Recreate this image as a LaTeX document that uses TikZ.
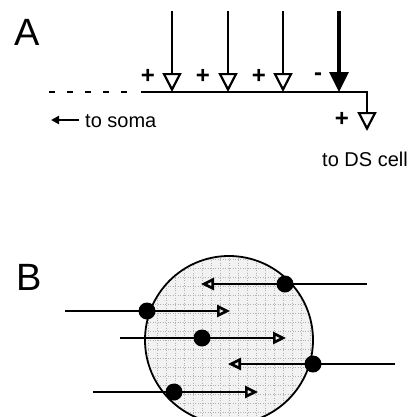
\documentclass[tikz,border=0pt]{standalone}
\usepackage{fontspec}
\setmainfont{Liberation Sans}
\usetikzlibrary{arrows.meta}
\begin{document}
\begin{tikzpicture}[x=1pt,y=-1pt,
  wire/.style={line width=2.4pt},
  exc/.style={line width=2.4pt,-{Triangle[open,length=19pt,width=19pt,line width=2.2pt]}},
  inh/.style={line width=3.2pt,-{Triangle[length=20pt,width=19pt]}},
  barrow/.style={line width=2.6pt,-{Triangle[open,length=13pt,width=12pt,line width=2.6pt]}},
  dot/.style={circle,fill=black,inner sep=0pt,minimum size=17pt},
  lbl/.style={font=\fontsize{20}{22}\selectfont,inner sep=0pt},
  sign/.style={font=\bfseries\fontsize{24}{26}\selectfont,inner sep=0pt},
  big/.style={font=\fontsize{38}{40}\selectfont,inner sep=0pt},
  gridline/.style={gray!60,line width=0.6pt,dash pattern=on 1pt off 1.5pt}]
\useasboundingbox (0,0) rectangle (418,416);
\fill[white] (0,0) rectangle (418,416);

% ---------- Panel A ----------
\node[big,anchor=base west] (A) at (14,45) {A};

\coordinate (s1) at (172,11); \coordinate (t1) at (172,92);
\coordinate (s2) at (228,11); \coordinate (t2) at (228,92);
\coordinate (s3) at (283,11); \coordinate (t3) at (283,92);
\coordinate (s4) at (339,11); \coordinate (t4) at (339,92);
\coordinate (lineL) at (141,92);
\coordinate (corner) at (367,92);
\coordinate (out) at (367,131);
\coordinate (dashL) at (49,92);
\coordinate (dashR) at (127,92);

\draw[wire] (lineL) -- (corner) -- (out |- 0,113);
\draw[exc] (corner) -- (out);
\draw[line width=2.4pt,dash pattern=on 6pt off 12pt] (dashL) -- (dashR);

\draw[exc] (s1) -- (t1);
\draw[exc] (s2) -- (t2);
\draw[exc] (s3) -- (t3);
\draw[inh] (s4) -- (t4);

\node[sign] (p1) at (148,76) {+};
\node[sign] (p2) at (203,76) {+};
\node[sign] (p3) at (259,76) {+};
\node[sign] (m4) at (318,77) {-};
\node[sign] (p5) at (342,119) {+};

\coordinate (sa) at (79,120);
\coordinate (sb) at (51,120);
\draw[line width=2pt,-{Triangle[length=8pt,width=8pt]}] (sa) -- (sb);
\node[lbl,anchor=base west] (soma) at (85,127) {to soma};
\node[lbl,anchor=base west] (ds) at (322,166) {to DS cell};

% ---------- Panel B ----------
\node[big,anchor=base west] (B) at (16,290) {B};

\begin{scope}
  \clip (0,0) rectangle (418,416);
  \fill[gray!10] (229,340) circle[radius=84];
  \begin{scope}
    \clip (229,340) circle[radius=84];
    \foreach \xx in {148,157,...,318} \draw[gridline] (\xx,250) -- (\xx,430);
    \foreach \yy in {259,268,...,430} \draw[gridline] (140,\yy) -- (320,\yy);
  \end{scope}
  \draw[line width=1.8pt] (229,340) circle[radius=84];
\end{scope}

\node[dot] (d1) at (285,284) {};
\node[dot] (d2) at (147,311) {};
\node[dot] (d3) at (202,338) {};
\node[dot] (d4) at (313,364) {};
\node[dot] (d5) at (174,392) {};

\coordinate (e1) at (367,284); \coordinate (h1) at (201,284);
\coordinate (e2) at (65,311);  \coordinate (h2) at (230,311);
\coordinate (e3) at (120,338); \coordinate (h3) at (286,338);
\coordinate (e4) at (395,364); \coordinate (h4) at (228,364);
\coordinate (e5) at (93,392);  \coordinate (h5) at (258,392);

\draw[wire] (e1) -- (d1.center);
\draw[wire] (e2) -- (d2.center);
\draw[wire] (e3) -- (d3.center);
\draw[wire] (e4) -- (d4.center);
\draw[wire] (e5) -- (d5.center);
\draw[barrow] (d1.center) -- (h1);
\draw[barrow] (d2.center) -- (h2);
\draw[barrow] (d3.center) -- (h3);
\draw[barrow] (d4.center) -- (h4);
\draw[barrow] (d5.center) -- (h5);
\end{tikzpicture}
\end{document}
